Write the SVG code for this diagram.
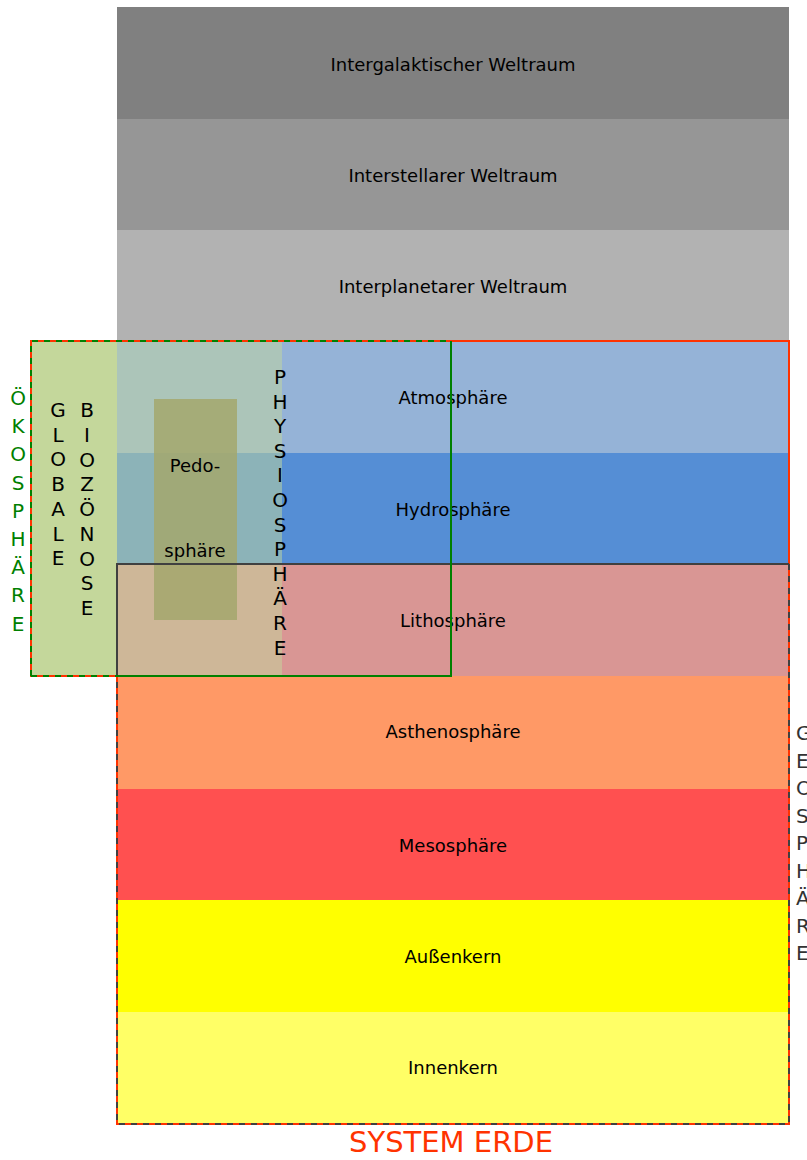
<svg xmlns="http://www.w3.org/2000/svg" width="807" height="1160" viewBox="0 0 807 1160">
<style>
.lbl{font-family:"DejaVu Sans",Verdana,sans-serif;font-size:18px;fill:#000;text-anchor:middle}
.vt{font-family:"DejaVu Sans",Verdana,sans-serif;font-size:20px;text-anchor:middle}
</style>
<rect width="807" height="1160" fill="#fff"/>
<g id="layers">
<g id="intergalaktisch"><rect x="117" y="7" width="672" height="112" fill="#808080"/><text class="lbl" x="453" y="71">Intergalaktischer Weltraum</text></g>
<g id="interstellar"><rect x="117" y="119" width="672" height="111" fill="#969696"/><text class="lbl" x="453" y="182">Interstellarer Weltraum</text></g>
<g id="interplanetar"><rect x="117" y="230" width="672" height="111" fill="#b2b2b2"/><text class="lbl" x="453" y="293">Interplanetarer Weltraum</text></g>
<g id="atmosphaere"><rect x="117" y="341" width="672" height="112" fill="#95b3d7"/><text class="lbl" x="453" y="404">Atmosphäre</text></g>
<g id="hydrosphaere"><rect x="117" y="453" width="672" height="111" fill="#558ed5"/><text class="lbl" x="453" y="516">Hydrosphäre</text></g>
<g id="lithosphaere"><rect x="117" y="564" width="672" height="112" fill="#d99694"/><text class="lbl" x="453" y="627">Lithosphäre</text></g>
<g id="asthenosphaere"><rect x="117" y="676" width="672" height="113" fill="#ff9966"/><text class="lbl" x="453" y="738">Asthenosphäre</text></g>
<g id="mesosphaere"><rect x="117" y="789" width="672" height="111" fill="#ff5050"/><text class="lbl" x="453" y="852">Mesosphäre</text></g>
<g id="aussenkern"><rect x="117" y="900" width="672" height="112" fill="#ffff00"/><text class="lbl" x="453" y="963">Außenkern</text></g>
<g id="innenkern"><rect x="117" y="1012" width="672" height="112" fill="#ffff66"/><text class="lbl" x="453" y="1074">Innenkern</text></g>
</g>
<g id="biozoenose">
<rect x="31" y="341" width="86" height="335" fill="#c4d79b"/>
<rect x="117" y="341" width="165" height="335" fill="#c4d79b" fill-opacity="0.5"/>
</g>
<g id="pedosphaere">
<rect x="154" y="399" width="83" height="221" fill="#a3a76c" fill-opacity="0.85"/>
<text class="lbl" x="195" y="472">Pedo-</text>
<text class="lbl" x="195" y="557">sphäre</text>
</g>
<g id="outlines" fill="none">
<polygon points="31,341 789,341 789,1124 117,1124 117,676 31,676" stroke="#ff3300" stroke-width="2"/>
<polyline points="117,676 117,564 789,564" stroke="#404040" stroke-width="2"/>
<polyline points="789,564 789,1124 117,1124 117,676" stroke="#404040" stroke-width="2" stroke-dasharray="6,6"/>
<polyline points="31,676 31,341 451,341" stroke="#008000" stroke-width="2" stroke-dasharray="6,6"/>
<polyline points="451,341 451,676 117,676" stroke="#008000" stroke-width="2"/>
<line x1="31" y1="676" x2="117" y2="676" stroke="#008000" stroke-width="2" stroke-dasharray="6,6"/>
</g>
<g id="labels-vertical">
<text class="vt" fill="#008000" x="18" y="405"><tspan x="18">Ö</tspan><tspan x="18" dy="28.2">K</tspan><tspan x="18" dy="28.2">O</tspan><tspan x="18" dy="28.2">S</tspan><tspan x="18" dy="28.2">P</tspan><tspan x="18" dy="28.2">H</tspan><tspan x="18" dy="28.2">Ä</tspan><tspan x="18" dy="28.2">R</tspan><tspan x="18" dy="28.2">E</tspan></text>
<text class="vt" fill="#000" x="58" y="417"><tspan x="58">G</tspan><tspan x="58" dy="24.7">L</tspan><tspan x="58" dy="24.7">O</tspan><tspan x="58" dy="24.7">B</tspan><tspan x="58" dy="24.7">A</tspan><tspan x="58" dy="24.7">L</tspan><tspan x="58" dy="24.7">E</tspan></text>
<text class="vt" fill="#000" x="87" y="417"><tspan x="87">B</tspan><tspan x="87" dy="24.75">I</tspan><tspan x="87" dy="24.75">O</tspan><tspan x="87" dy="24.75">Z</tspan><tspan x="87" dy="24.75">Ö</tspan><tspan x="87" dy="24.75">N</tspan><tspan x="87" dy="24.75">O</tspan><tspan x="87" dy="24.75">S</tspan><tspan x="87" dy="24.75">E</tspan></text>
<text class="vt" fill="#000" x="280" y="384"><tspan x="280">P</tspan><tspan x="280" dy="24.6">H</tspan><tspan x="280" dy="24.6">Y</tspan><tspan x="280" dy="24.6">S</tspan><tspan x="280" dy="24.6">I</tspan><tspan x="280" dy="24.6">O</tspan><tspan x="280" dy="24.6">S</tspan><tspan x="280" dy="24.6">P</tspan><tspan x="280" dy="24.6">H</tspan><tspan x="280" dy="24.6">Ä</tspan><tspan x="280" dy="24.6">R</tspan><tspan x="280" dy="24.6">E</tspan></text>
<text class="vt" fill="#333" style="text-anchor:start;font-size:20px" x="796" y="740"><tspan x="796">G</tspan><tspan x="796" dy="27.5">E</tspan><tspan x="796" dy="27.5">O</tspan><tspan x="796" dy="27.5">S</tspan><tspan x="796" dy="27.5">P</tspan><tspan x="796" dy="27.5">H</tspan><tspan x="796" dy="27.5">Ä</tspan><tspan x="796" dy="27.5">R</tspan><tspan x="796" dy="27.5">E</tspan></text>
<text x="451" y="1152" style="font-family:'DejaVu Sans',Verdana,sans-serif;font-size:29px;text-anchor:middle" fill="#ff3300">SYSTEM ERDE</text>
</g>
</svg>
